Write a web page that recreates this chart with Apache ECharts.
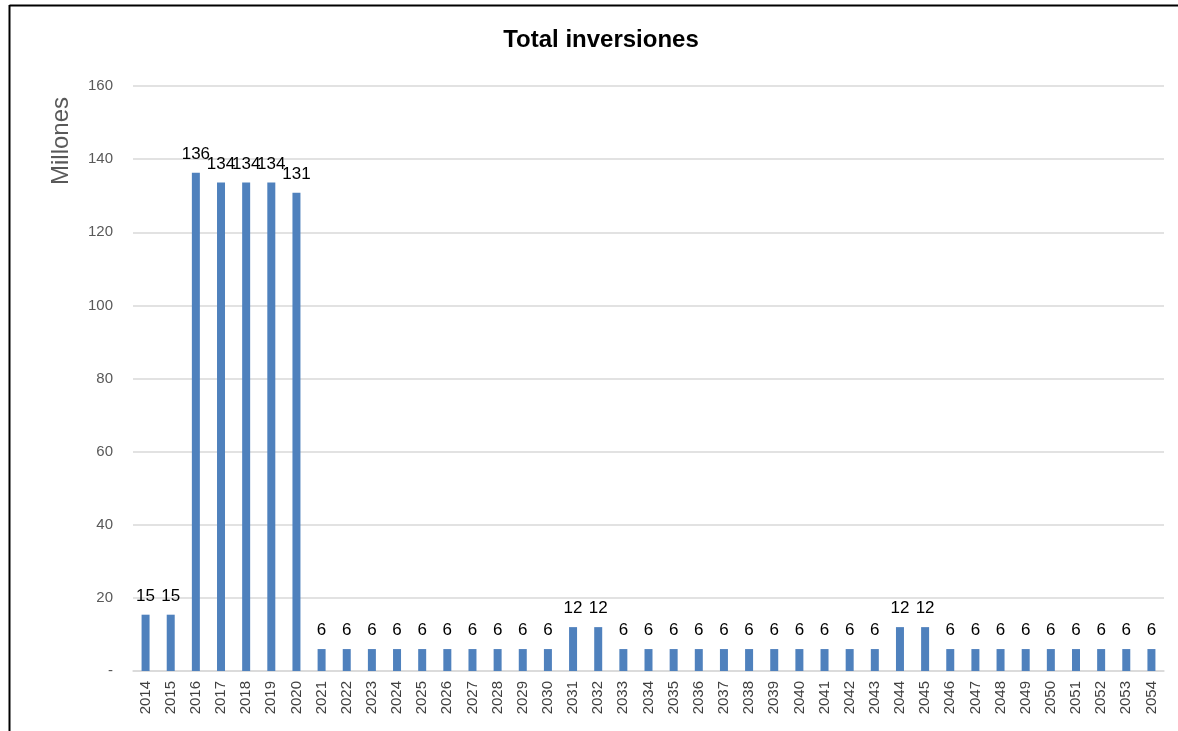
<!DOCTYPE html>
<html><head><meta charset="utf-8">
<script src="https://cdn.jsdelivr.net/npm/echarts@6/dist/echarts.min.js"></script>
<style>html,body{margin:0;padding:0;background:#fff}#c{width:1178px;height:731px}</style>
</head><body><div id="c"></div>
<script>
const years = [];
for (let y = 2014; y <= 2054; y++) years.push(String(y));
const values = [15.4, 15.4, 136.3, 133.6, 133.6, 133.6, 130.8,
  6, 6, 6, 6, 6, 6, 6, 6, 6, 6,
  12, 12,
  6, 6, 6, 6, 6, 6, 6, 6, 6, 6, 6,
  12, 12,
  6, 6, 6, 6, 6, 6, 6, 6, 6];
const yTitle = 'Millones';
const chartTitle = 'Total inversiones';
const chart = echarts.init(document.getElementById('c'));
chart.setOption({
  animation: false,
  graphic: [
    { type: 'line', shape: { x1: 9.5, y1: 5.5, x2: 1178, y2: 5.5 }, style: { stroke: '#000', lineWidth: 2 } },
    { type: 'line', shape: { x1: 9.5, y1: 5, x2: 9.5, y2: 731 }, style: { stroke: '#000', lineWidth: 2 } },
    { type: 'text', x: 601, y: 40, style: { text: chartTitle, fill: '#000', font: 'bold 24px "Liberation Sans"', align: 'center', verticalAlign: 'middle' } },
    { type: 'text', x: 61, y: 141, rotation: Math.PI / 2, style: { text: yTitle, fill: '#595959', font: '24px "Liberation Sans"', align: 'center', verticalAlign: 'middle' } }
  ],
  grid: { left: 133, right: 14, top: 86, bottom: 60, containLabel: false },
  xAxis: {
    type: 'category', data: years,
    axisLine: { lineStyle: { color: '#d9d9d9', width: 1.5 } },
    axisTick: { show: false },
    axisLabel: { rotate: 90, color: '#404040', fontFamily: 'Liberation Sans', fontSize: 15, interval: 0, margin: 10 }
  },
  yAxis: {
    type: 'value', min: 0, max: 160, interval: 20,
    axisLine: { show: false }, axisTick: { show: false },
    axisLabel: { color: '#595959', fontFamily: 'Liberation Sans', fontSize: 15, margin: 20,
      formatter: v => v === 0 ? '-' : String(v) },
    splitLine: { lineStyle: { color: '#d9d9d9', width: 1.5 } }
  },
  series: [{
    type: 'bar', data: values, barWidth: 8,
    itemStyle: { color: '#4f81bd' },
    label: { show: true, position: 'top', distance: 10, color: '#000', fontFamily: 'Liberation Sans', fontSize: 17,
      formatter: p => String(Math.round(p.value)) }
  }]
});
</script></body></html>
